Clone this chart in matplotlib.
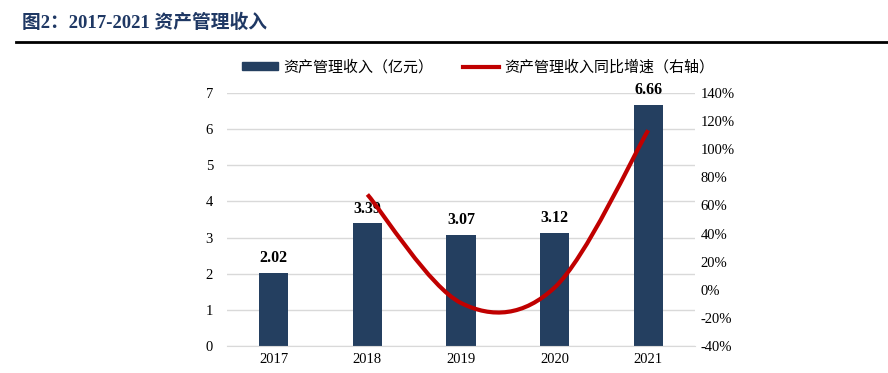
import matplotlib
matplotlib.use("Agg")
import matplotlib.pyplot as plt
import numpy as np
from matplotlib.path import Path
from matplotlib.patches import PathPatch
from matplotlib.lines import Line2D
from matplotlib.patches import Patch

years = ["2017", "2018", "2019", "2020", "2021"]
revenue = [2.02, 3.39, 3.07, 3.12, 6.66]
growth = [None, 67.8, -9.4, 1.6, 113.5]  # %
left_ticks = [0, 1, 2, 3, 4, 5, 6, 7]
right_ticks = [-40, -20, 0, 20, 40, 60, 80, 100, 120, 140]

BAR = "#243F60"
RED = "#C00000"
NAVY = "#1F3864"
GRID = "#D9D9D9"
SERIF = ["Liberation Serif", "DejaVu Serif"]

fig = plt.figure(figsize=(8.88, 3.73), dpi=100)
ax = fig.add_axes([227/888, 1-346/373, (695-227)/888, (346-93)/373])
x = np.arange(len(years))
ax.bar(x, revenue, width=0.31, color=BAR, zorder=2)
ax.set_xlim(-0.5, len(years)-0.5)
ax.set_ylim(0, 7)
ax.set_yticks(left_ticks)
ax.set_xticks(x)
ax.set_xticklabels(years)
ax.grid(axis="y", color=GRID, linewidth=1, zorder=0)
for s in ["top", "left", "right"]:
    ax.spines[s].set_visible(False)
ax.spines["bottom"].set_color(GRID)
ax.tick_params(axis="both", length=0, labelsize=10.5)
ax.tick_params(axis="y", pad=10)
ax.tick_params(axis="x", pad=5)
for lab in ax.get_xticklabels() + ax.get_yticklabels():
    lab.set_fontfamily(SERIF)
for xi, v in zip(x, revenue):
    ax.annotate(f"{v:.2f}", (xi, v), xytext=(0, 5), textcoords="offset points",
                ha="center", va="bottom", fontsize=11.5, fontweight="bold",
                fontfamily=SERIF)

ax2 = ax.twinx()
ax2.set_ylim(-40, 140)
ax2.set_yticks(right_ticks)
ax2.set_yticklabels([f"{t}%" for t in right_ticks])
for s in ["top", "left", "right", "bottom"]:
    ax2.spines[s].set_visible(False)
ax2.tick_params(axis="y", length=0, labelsize=10.5, pad=4)
for lab in ax2.get_yticklabels():
    lab.set_fontfamily(SERIF)

# Excel-style smoothed line (Bezier through points)
pts = np.array([(xi, g) for xi, g in zip(x, growth) if g is not None], dtype=float)
n = len(pts)
verts = [tuple(pts[0])]
codes = [Path.MOVETO]
for i in range(n-1):
    p_prev = pts[i-1] if i > 0 else pts[i]
    p0 = pts[i]
    p1 = pts[i+1]
    p_next = pts[i+2] if i+2 < n else pts[i+1]
    c1 = p0 + (p1 - p_prev) / 6
    c2 = p1 - (p_next - p0) / 6
    verts += [tuple(c1), tuple(c2), tuple(p1)]
    codes += [Path.CURVE4]*3
path = Path(verts, codes)
ax2.add_patch(PathPatch(path, facecolor="none", edgecolor=RED, linewidth=3,
                        capstyle="butt", zorder=3))

# legend
handles = [Patch(facecolor=BAR, edgecolor=BAR),
           Line2D([], [], color=RED, linewidth=3)]
labels = ["资产管理收入（亿元）", "资产管理收入同比增速（右轴）"]
leg = fig.legend(handles, labels, loc="center", bbox_to_anchor=(478/888, 1-67/373),
                 ncol=2, frameon=False, handlelength=2.4,
                 handleheight=0.45, columnspacing=2.0, handletextpad=0.35,
                 prop={"family": ["Noto Sans CJK SC"], "size": 10.8})

# title
fig.text(22/888, 1-23/373, "图2：2017-2021 资产管理收入", fontsize=13.5, fontweight="bold",
         color=NAVY, va="center", ha="left", family=["Liberation Serif", "Noto Sans CJK SC"])
fig.add_artist(Line2D([16/888, 1.0], [1-42/373, 1-42/373], color="black", linewidth=2))

fig.savefig("out.png", dpi=100)
